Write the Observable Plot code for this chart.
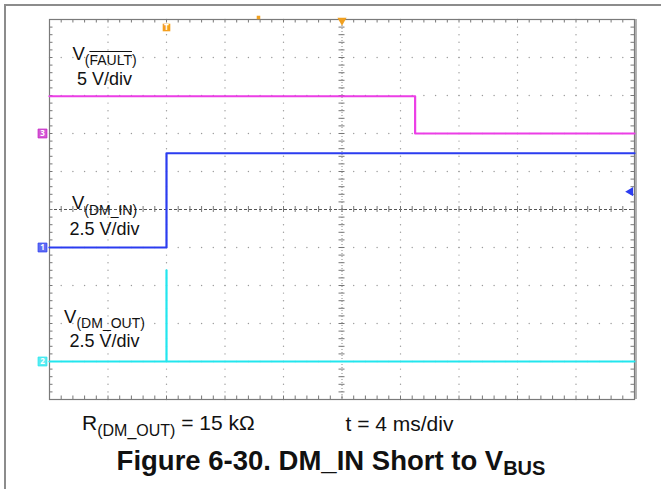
<!DOCTYPE html>
<html>
<head>
<meta charset="utf-8">
<script src="https://cdn.jsdelivr.net/npm/d3@7"></script>
<script src="https://cdn.jsdelivr.net/npm/@observablehq/plot@0.6"></script>
<style>
  html, body { margin: 0; padding: 0; background: #fff; }
  #wrap { position: relative; width: 661px; height: 489px; overflow: hidden; font-family: "Liberation Sans", Arial, sans-serif; color: #111; }
  #box { position: absolute; left: 4px; top: 4px; width: 800px; height: 700px; border-left: 2px solid #8c8c8c; border-top: 2px solid #8c8c8c; }
  #plot { position: absolute; left: 0; top: 0; }
  .lab { position: absolute; white-space: nowrap; line-height: 0; }
</style>
</head>
<body>
<div id="wrap"><div id="box"></div><div id="plot"></div></div>
<script>
// ---- channel settings ----
const channelNames = ["FAULT", "DM_IN", "DM_OUT"];
const voltsPerDiv = [5, 2.5, 2.5];
const groundDiv = [2, -1, -4];
const channelColors = ["#ec3ee6", "#2b3cf0", "#22e6ee"];

// ---- trace data (time in ms, voltage in V) ----
const faultTime = [-20, 5, 5, 20];
const faultVolts = [4.9, 4.9, 0, 0];
const dmInTime = [-20, -12, -12, 20];
const dmInVolts = [0, 0, 6.2, 6.2];
const dmOutTime = [-20, -12, -12, -12, 20];
const dmOutVolts = [0, 0, 6.0, 0, 0];

// ---- screen settings ----
const timePerDiv = 4;           // ms/div
const xDomain = [-20, 20];      // 10 horizontal divisions
const yDomain = [-5, 5];        // 10 vertical divisions
const triggerTime = -12;
const triggerLevelDiv = 0.47;

function toRows(times, volts, ch) {
  return times.map((t, i) => ({ t, y: groundDiv[ch] + volts[i] / voltsPerDiv[ch] }));
}
const traces = [
  toRows(faultTime, faultVolts, 0),
  toRows(dmInTime, dmInVolts, 1),
  toRows(dmOutTime, dmOutVolts, 2)
];

// grid helpers
const majorX = d3.range(-16, 17, 4).filter(d => d !== 0);
const majorY = d3.range(-4, 5, 1).filter(d => d !== 0);
const minorX = d3.range(-20, 20.001, 0.8);
const minorY = d3.range(-5, 5.001, 0.2);
const gridDotsH = majorY.flatMap(y => minorX.map(t => ({ t, y })));
const gridDotsV = majorX.flatMap(t => minorY.map(y => ({ t, y })));

const pxX = 40 / 585;  // ms per px
const pxY = 10 / 380;  // div per px

const markers = channelNames.map((n, i) => ({ t: -20 - 7 * pxX, y: groundDiv[i], label: ["3", "1", "2"][i], color: channelColors[i] }));
markers[0].color = "#c41fc4";

const chart = Plot.plot({
  width: 661,
  height: 410,
  marginLeft: 49,
  marginRight: 27,
  marginTop: 19,
  marginBottom: 11,
  x: { domain: xDomain, axis: null },
  y: { domain: yDomain, axis: null },
  marks: [
    // dotted grid
    Plot.dot(gridDotsH, { x: "t", y: "y", r: 0.7, fill: "#9a9a9a", stroke: null }),
    Plot.dot(gridDotsV, { x: "t", y: "y", r: 0.7, fill: "#9a9a9a", stroke: null }),
    // center crosshair
    Plot.ruleY([0], { stroke: "#555", strokeWidth: 1, strokeDasharray: "3,2" }),
    Plot.ruleX([0], { stroke: "#888", strokeWidth: 1, strokeDasharray: "1,2" }),
    Plot.ruleX(minorX, { y1: -3 * pxY, y2: 3 * pxY, stroke: "#777", strokeWidth: 1 }),
    Plot.ruleY(minorY, { x1: -3 * pxX, x2: 3 * pxX, stroke: "#777", strokeWidth: 1 }),
    // edge ticks
    Plot.ruleX(minorX, { y1: 5, y2: 5 - 3.5 * pxY, stroke: "#777", strokeWidth: 1 }),
    Plot.ruleX(minorX, { y1: -5, y2: -5 + 3.5 * pxY, stroke: "#777", strokeWidth: 1 }),
    Plot.ruleY(minorY, { x1: -20, x2: -20 + 3.5 * pxX, stroke: "#777", strokeWidth: 1 }),
    Plot.ruleY(minorY, { x1: 20, x2: 20 - 3.5 * pxX, stroke: "#777", strokeWidth: 1 }),
    // frame
    Plot.ruleX([20], { y1: -5, y2: 5, stroke: "#b4b4b4", strokeWidth: 3, dx: 1 }),
    Plot.frame({ stroke: "#7a7a7a", strokeWidth: 1.2 }),
    // traces
    Plot.line(traces[0], { x: "t", y: "y", stroke: channelColors[0], strokeWidth: 2.2 }),
    Plot.line(traces[1], { x: "t", y: "y", stroke: channelColors[1], strokeWidth: 2.2 }),
    Plot.line(traces[2], { x: "t", y: "y", stroke: channelColors[2], strokeWidth: 2.2 }),
    // channel ground markers
    Plot.dot(markers, { x: "t", y: "y", symbol: "square", r: 5, fill: "color", stroke: "color", strokeWidth: 0.8, fillOpacity: 0.75 }),
    Plot.text(markers, { x: "t", y: "y", text: "label", fill: "white", fontSize: 8, fontWeight: "bold" }),
    // trigger markers
    Plot.dot([{ t: triggerTime, y: 5 - 8 * pxY }], { x: "t", y: "y", symbol: "square", r: 4.3, fill: "#f5a01e" }),
    Plot.text([{ t: triggerTime, y: 5 - 8 * pxY }], { x: "t", y: "y", text: () => "T", fill: "white", fontSize: 8, fontWeight: "bold" }),
    Plot.dot([{ t: 0, y: 5 }], { x: "t", y: "y", symbol: "triangle", rotate: 180, r: 3.4, fill: "#f0a020", dy: 1 }),
    Plot.dot([{ t: -5.71, y: 5 }], { x: "t", y: "y", symbol: "square", r: 2, fill: "#f0a020", dy: -2 }),
    Plot.dot([{ t: 20, y: triggerLevelDiv }], { x: "t", y: "y", symbol: "triangle", rotate: -90, r: 3.4, fill: "#2b3cf0", dx: -4 })
  ]
});
document.getElementById("plot").appendChild(chart);

// ---- text labels ----
const wrap = document.getElementById("wrap");
function label(html, x, baseline, size, align, bold) {
  const d = document.createElement("div");
  d.className = "lab";
  d.style.fontSize = size + "px";
  if (bold) d.style.fontWeight = "bold";
  d.style.top = (baseline - 0.3465 * size) + "px";
  d.style.left = x + "px";
  if (align === "middle") d.style.transform = "translateX(-50%)";
  d.innerHTML = html;
  wrap.appendChild(d);
}
const sub = (t, size, shift) => `<span style="font-size:${size}px;position:relative;top:${shift}px">${t}</span>`;

label("V" + sub('(<span style="text-decoration:overline">FAULT</span>)', 14, 5), 104.5, 60, 18.5, "middle");
label("5 V/div", 104.5, 85, 18, "middle");
label("V" + sub("(DM_IN)", 14, 6), 104.5, 209, 18.5, "middle");
label("2.5 V/div", 104.5, 235, 18, "middle");
label("V" + sub("(DM_OUT)", 14, 5), 104.5, 323, 18.5, "middle");
label("2.5 V/div", 104.5, 347, 18, "middle");
label("R" + sub("(DM_OUT)", 16, 6) + " = 15 kΩ", 82, 430, 21, "left");
label("t = 4 ms/div", 345.5, 431, 21, "left");
label("Figure 6-30. DM_IN Short to V" + sub("BUS", 20, 5), 331, 471, 27.5, "middle", true);
</script>
</body>
</html>
